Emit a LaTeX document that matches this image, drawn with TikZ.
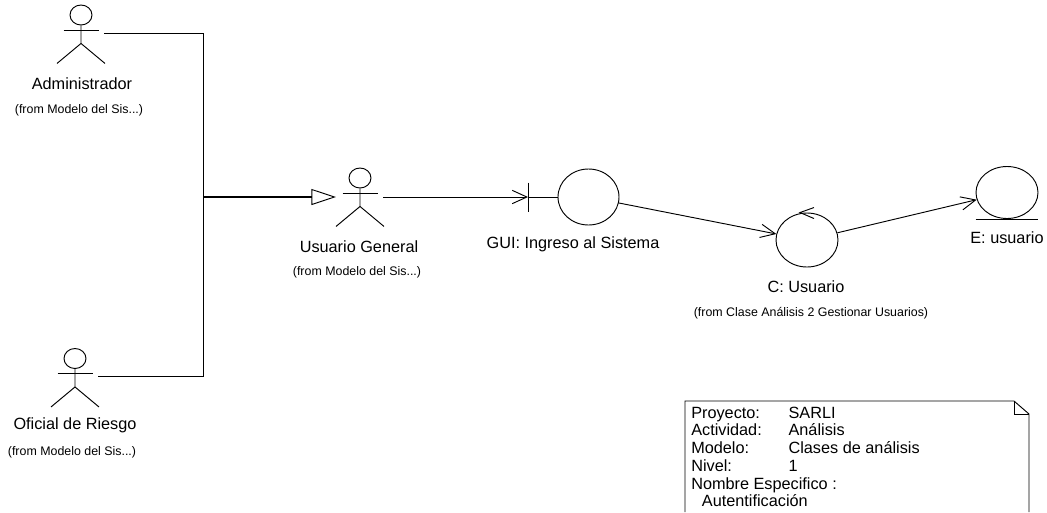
\documentclass[tikz,border=0pt]{standalone}
\usepackage{fontspec}
\setmainfont{Liberation Sans}
\usetikzlibrary{arrows.meta, calc, shapes.geometric}

\begin{document}
\begin{tikzpicture}[
  x=0.75pt, y=-0.75pt,
  umlline/.style={draw=black, line width=0.7pt},
  heavyline/.style={draw=black, line width=0.8pt},
  actorhead/.style={ellipse, draw=black, line width=0.7pt, minimum width=16.5pt, minimum height=15pt, inner sep=0pt},
  ucircle/.style={ellipse, draw=black, line width=0.7pt, inner sep=0pt},
  openarrow/.style={umlline, -{Straight Barb[length=11pt, width=10pt]}},
  genarrow/.style={heavyline, -{Triangle[open, length=18.5pt, width=12pt, line width=0.7pt]}},
  namelabel/.style={font=\fontsize{12.2pt}{14pt}\selectfont, inner sep=0pt},
  fromlabel/.style={font=\fontsize{9.3pt}{11pt}\selectfont, inner sep=0pt},
  notetext/.style={font=\fontsize{12.2pt}{13.3pt}\selectfont, inner sep=0pt, anchor=north west, align=left}
]
\useasboundingbox (0,0) rectangle (1047,512);

% Actors: head, arms, body, legs
\foreach \name/\x/\y in {admin/81/15, usuario/360/178, oficial/75/358.5} {
  \node[actorhead] (\name) at (\x,\y) {};
  \draw[umlline] (\name.south) -- ++(0,18) coordinate (\name hip) -- ++(-24,20);
  \draw[umlline] (\name hip) -- ++(24,20);
  \draw[umlline] ($(\name.south)+(-17.5,4.5)$) -- ++(35,0);
}

\node[namelabel] (adminname) at (82,84) {Administrador};
\node[fromlabel] (adminfrom) at (79,110) {(from Modelo del Sis...)};
\node[namelabel] (oficialname) at (75,425) {Oficial de Riesgo};
\node[fromlabel] (oficialfrom) at (72,452) {(from Modelo del Sis...)};
\node[namelabel] (usuarioname) at (359,247) {Usuario General};
\node[fromlabel] (usuariofrom) at (357,272) {(from Modelo del Sis...)};

% Boundary, control and entity
\node[ucircle, minimum width=45.75pt, minimum height=42pt] (gui) at (588.5,197) {};
\node[ucircle, minimum width=46.5pt, minimum height=40.5pt] (ctrl) at (807,240) {};
\node[ucircle, minimum width=46.5pt, minimum height=39pt] (ent) at (1007,192.5) {};

\node[namelabel] (guiname) at (573,244) {GUI: Ingreso al Sistema};
\node[namelabel] (ctrlname) at (806,287) {C: Usuario};
\node[fromlabel] (ctrlfrom) at (811,313) {(from Clase Análisis 2 Gestionar Usuarios)};
\node[namelabel] (entname) at (1007,238) {E: usuario};

% Free ends
\coordinate (adminport) at (104,33);
\coordinate (oficialport) at (98,376);
\coordinate (topbend) at (203,33);
\coordinate (lowbend) at (203,376);
\coordinate (joint) at (203,197);
\coordinate (usuariotip) at (336,197);
\coordinate (usuarioport) at (383,197);
\coordinate (tick) at (528,197);

% Generalisation
\draw[umlline] (adminport) -- (topbend) -- (lowbend) -- (oficialport);
\draw[genarrow] (joint) -- (usuariotip);

% Associations
\draw[openarrow] (usuarioport) -- (tick);
\draw[umlline] (tick) -- (gui);
\draw[umlline] ($(tick)+(0,-14.5)$) -- ($(tick)+(0,14.5)$);
\draw[openarrow] (gui) -- (ctrl);
\draw[openarrow] (ctrl) -- (ent);

% Control arrow and entity underline
\draw[umlline] ($(ctrl.north)+(7,-5)$) -- ($(ctrl.north)+(-7,0)$) -- ($(ctrl.north)+(7,6)$);
\draw[umlline] (ent.west |- ent.south) -- (ent.east |- ent.south);

% Note, cut off by the page
\coordinate (notenw) at (685,401);
\coordinate (notefold) at (1014,401);
\coordinate (notene) at (1029,414);
\coordinate (notesw) at (685,512);
\coordinate (notese) at (1029,512);
\draw[umlline] (notesw) -- (notenw) -- (notefold) -- (notene) -- (notese);
\draw[umlline] (notefold) -- (notefold |- notene) -- (notene);
\node[notetext] (notebody) at (691,405.5) {%
  \begin{tabular}{@{}p{73pt}@{}l@{}}
  Proyecto: & SARLI\\
  Actividad: & Análisis\\
  Modelo: & Clases de análisis\\
  Nivel: & 1\\
  \multicolumn{2}{@{}l@{}}{Nombre Especifico :}\\
  \multicolumn{2}{@{}l@{}}{\hspace{8pt}Autentificación}
  \end{tabular}};

\end{tikzpicture}
\end{document}
